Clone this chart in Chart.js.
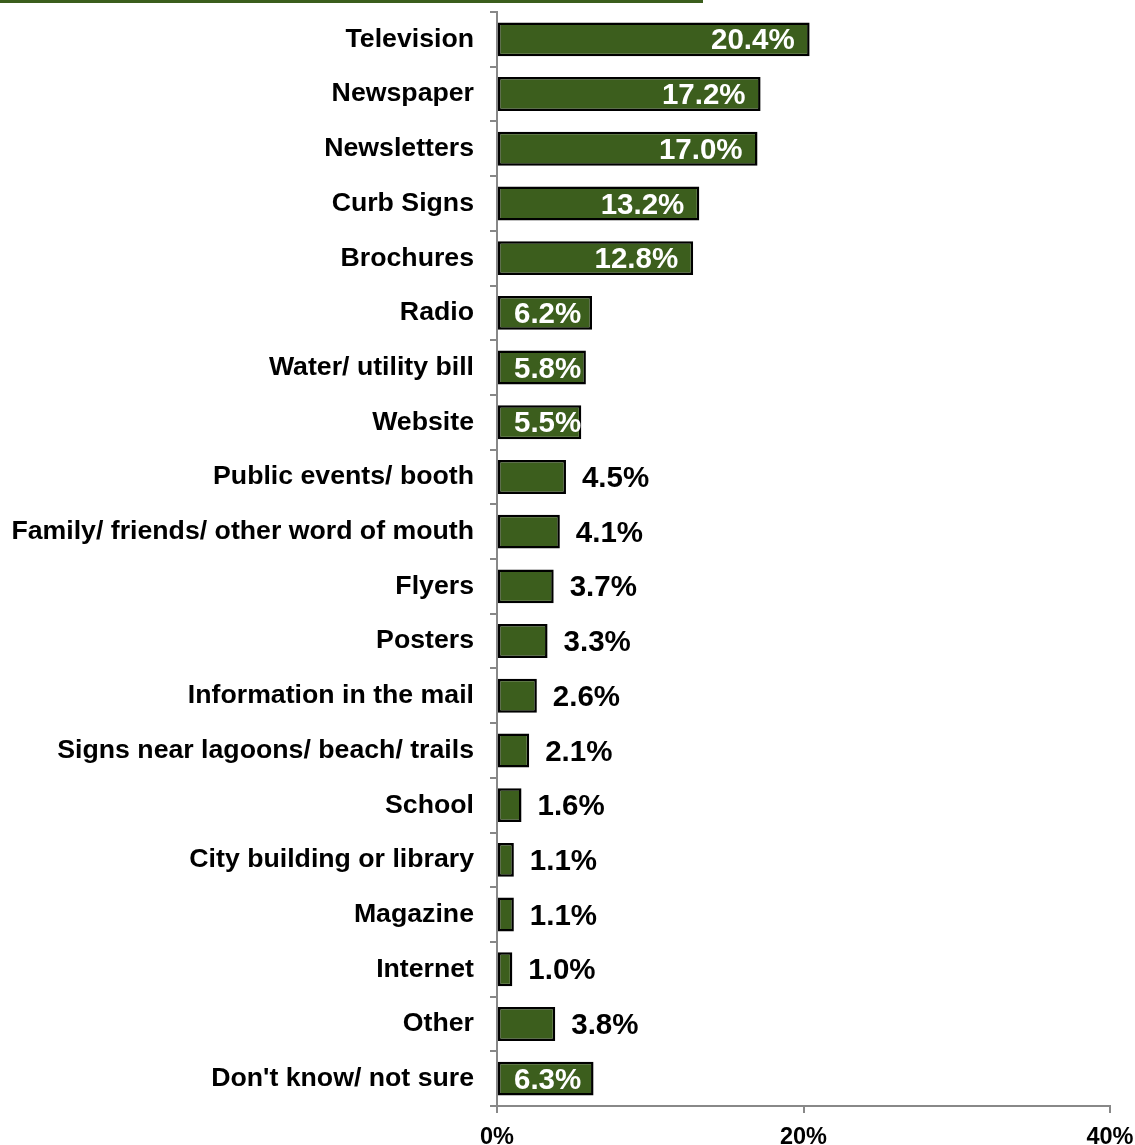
<!DOCTYPE html>
<html>
<head>
<meta charset="utf-8">
<script src="https://cdn.jsdelivr.net/npm/chart.js@4.4.0/dist/chart.umd.min.js"></script>
<style>
  html, body { margin: 0; padding: 0; background: #fff; }
  #topRule { position: absolute; left: 0; top: 0; width: 703px; height: 3px; background: #3b5e1d; }
  #wrap { position: absolute; left: 0; top: 0; width: 1135px; height: 1145px; }
</style>
</head>
<body>
<div id="topRule"></div>
<div id="wrap"><canvas id="TAG"></canvas></div>
<script>
var categories = [
  "Television", "Newspaper", "Newsletters", "Curb Signs", "Brochures",
  "Radio", "Water/ utility bill", "Website", "Public events/ booth",
  "Family/ friends/ other word of mouth", "Flyers", "Posters",
  "Information in the mail", "Signs near lagoons/ beach/ trails", "School",
  "City building or library", "Magazine", "Internet", "Other",
  "Don't know/ not sure"
];
var values = [20.4, 17.2, 17.0, 13.2, 12.8, 6.2, 5.8, 5.5, 4.5, 4.1, 3.7, 3.3, 2.6, 2.1, 1.6, 1.1, 1.1, 1.0, 3.8, 6.3];
var xTicks = [0, 20, 40];

var FONT = "'Liberation Sans', Arial, sans-serif";

// value labels: white inside the bar end for long bars, black just past the end for short ones
var valueLabels = {
  id: "valueLabels",
  afterDatasetsDraw: function (chart) {
    var ctx = chart.ctx;
    var meta = chart.getDatasetMeta(0);
    ctx.save();
    ctx.font = "bold 29.5px " + FONT;
    ctx.textBaseline = "middle";
    meta.data.forEach(function (bar, i) {
      var v = values[i];
      var txt = v.toFixed(1) + "%";
      var w = ctx.measureText(txt).width;
      if (v >= 5) {
        var right = Math.max(bar.x - 15, bar.base + 16 + w);
        ctx.fillStyle = "#ffffff";
        ctx.textAlign = "right";
        ctx.fillText(txt, right, bar.y + 2);
      } else {
        ctx.fillStyle = "#000000";
        ctx.textAlign = "left";
        ctx.fillText(txt, bar.x + 16, bar.y + 2);
      }
    });
    ctx.restore();
  }
};

var data = {
  labels: categories,
  datasets: [
    {
      data: values,
      backgroundColor: "#3c5e1d",
      borderColor: "#000000",
      borderWidth: 2.5,
      borderSkipped: false,
      barPercentage: 0.62,
      categoryPercentage: 1.0
    }
  ]
};

var option = {
  indexAxis: "y",
  responsive: false,
  animation: false,
  layout: { padding: { top: 12, right: 25, left: 0, bottom: 0 } },
  plugins: { legend: { display: false }, tooltip: { enabled: false } },
  scales: {
    y: {
      afterFit: function (scale) {
        scale.width = 497;
        scale.paddingTop = 0;
        scale.paddingBottom = 0;
      },
      grid: {
        offset: true,
        drawOnChartArea: false,
        drawTicks: true,
        tickLength: 7,
        color: "#888888",
        lineWidth: 2
      },
      border: { color: "#888888", width: 2 },
      ticks: {
        color: "#000000",
        padding: 16,
        font: { family: FONT, size: 26.7, weight: "bold" }
      }
    },
    x: {
      min: 0,
      max: 40,
      afterFit: function (scale) {
        scale.height = 39;
        scale.paddingLeft = 0;
        scale.paddingRight = 0;
      },
      afterBuildTicks: function (scale) {
        scale.ticks = xTicks.map(function (v) { return { value: v }; });
      },
      grid: {
        drawOnChartArea: false,
        drawTicks: true,
        tickLength: 7,
        color: "#888888",
        lineWidth: 2
      },
      border: { color: "#888888", width: 2 },
      ticks: {
        color: "#000000",
        padding: 10,
        maxRotation: 0,
        font: { family: FONT, size: 23.5, weight: "bold" },
        callback: function (v) { return v + "%"; }
      }
    }
  }
};

var canvas = document.getElementById("TAG");
canvas.width = 1135;
canvas.height = 1145;
new Chart(canvas, {
  type: "bar",
  options: option,
  data: data,
  plugins: [valueLabels]
});
</script>
</body>
</html>
